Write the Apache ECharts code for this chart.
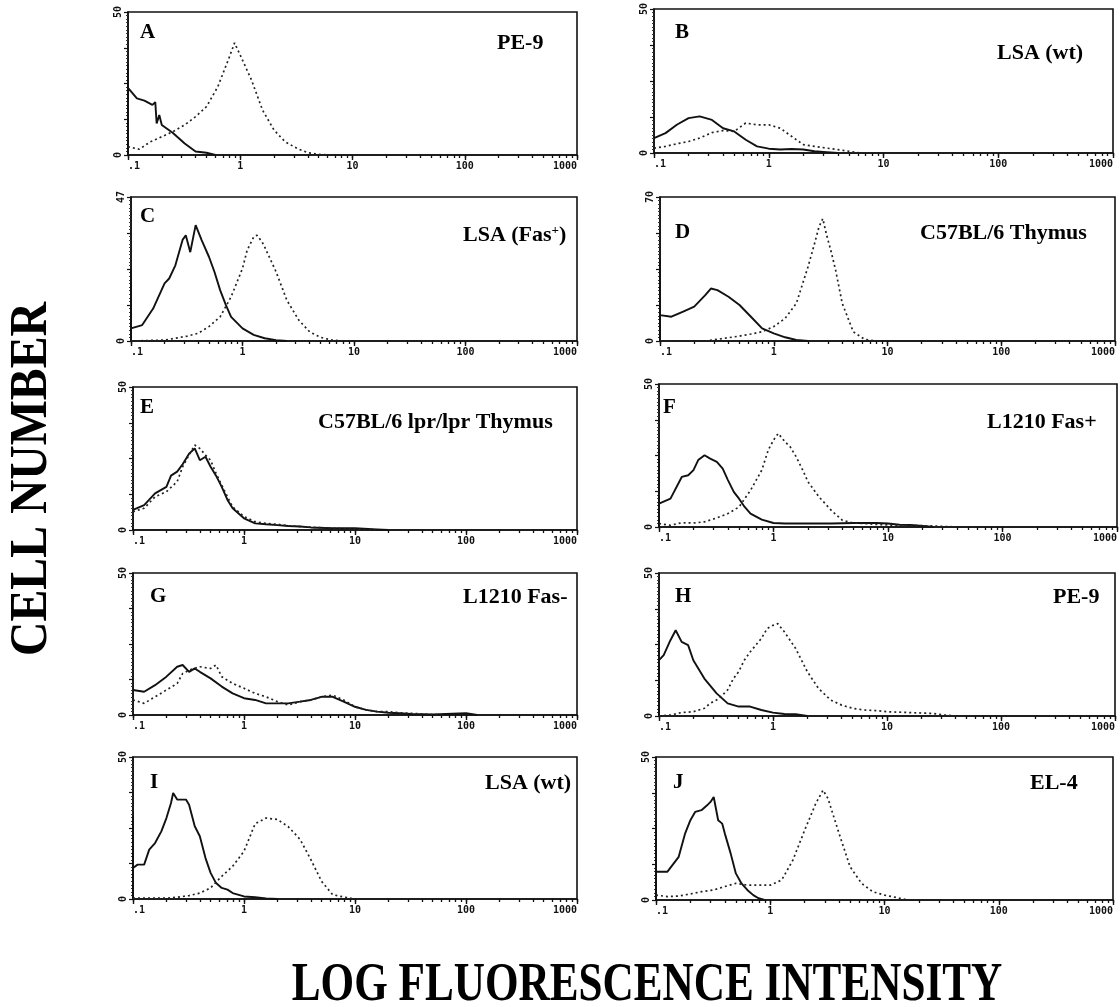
<!DOCTYPE html>
<html><head><meta charset="utf-8">
<script src="https://cdn.jsdelivr.net/npm/echarts@6/dist/echarts.min.js"></script>
<style>html,body{margin:0;padding:0;background:#fff}#c{width:1120px;height:1007px}</style>
</head><body><div id="c"></div><script>
// ---------- DATA ----------
const panelLetters = ['A','B','C','D','E','F','G','H','I','J'];
const panelNames = ['PE-9','LSA (wt)','LSA (Fas{sup|+})','C57BL/6 Thymus','C57BL/6 lpr/lpr Thymus','L1210 Fas+','L1210 Fas-','PE-9','LSA (wt)','EL-4'];
const yMax = [50,50,47,70,50,50,50,50,50,50];
const xLabelValues = [0.1,1,10,100,1000];
const xTickValues = [0.1,0.2,0.3,0.4,0.5,0.6,0.7,0.8,0.9,1,2,3,4,5,6,7,8,9,10,20,30,40,50,60,70,80,90,100,200,300,400,500,600,700,800,900,1000];

// [fluorescence, cell number] — solid (control) and dotted (Fas stain)
const A_ctrl = [[0.1,0],[0.1,32],[0.1,23.5],[0.12,19.8],[0.14,19],[0.165,17.5],[0.175,18.5],[0.18,11],[0.19,14],[0.2,10.5],[0.25,7.8],[0.32,4],[0.4,1.2],[0.5,0.8],[0.6,0]];
const A_fas = [[0.1,2.9],[0.126,2],[0.158,4.6],[0.2,6.4],[0.25,8.1],[0.32,10.5],[0.4,13.4],[0.5,16.9],[0.63,23.8],[0.79,33.7],[0.89,39.2],[1.0,34.9],[1.26,26.2],[1.58,15.7],[2.0,8.7],[2.5,4.7],[3.2,2.3],[4.0,0.8],[5.0,0.2],[6.3,0]];
const B_ctrl = [[0.1,5.2],[0.126,6.9],[0.158,9.8],[0.2,12.1],[0.25,12.7],[0.32,11.5],[0.4,8.6],[0.5,7.5],[0.63,4.6],[0.79,2.3],[1,1.5],[1.26,1.2],[1.58,1.4],[2,1.2],[2.5,0.6],[3.2,0.3],[4,0]];
const B_fas = [[0.1,1.7],[0.126,2.3],[0.158,3.2],[0.2,4.0],[0.25,5.2],[0.32,7.1],[0.4,7.8],[0.5,7.5],[0.63,10.4],[0.79,9.8],[1,9.8],[1.26,8.6],[1.58,5.8],[2,2.9],[2.5,2.3],[3.2,1.7],[4,1.2],[5,0.6],[6.3,0]];
const C_ctrl = [[0.1,0],[0.1,23],[0.1,4.1],[0.126,5.2],[0.158,10.6],[0.2,18.8],[0.22,20.4],[0.25,24.7],[0.29,33],[0.31,34.5],[0.34,29],[0.38,37.8],[0.43,32.9],[0.5,27.5],[0.56,22.6],[0.63,16.6],[0.71,11.7],[0.79,7.9],[1,4.1],[1.26,2.0],[1.58,0.9],[2,0.3],[2.5,0]];
const C_fas = [[0.1,0],[0.2,0.3],[0.25,0.9],[0.32,1.6],[0.4,2.5],[0.5,4.7],[0.63,7.9],[0.79,14.4],[1,23.7],[1.1,29.6],[1.26,34],[1.35,34.5],[1.5,32.3],[1.58,30.7],[2,22.6],[2.5,13.3],[3.2,6.8],[4,3],[5,1.2],[6.3,0.3],[7.9,0]];
const D_ctrl = [[0.1,0],[0.1,40],[0.1,12.6],[0.126,11.8],[0.158,14.2],[0.2,16.7],[0.25,22.3],[0.28,25.5],[0.32,24.7],[0.4,21.5],[0.5,17.5],[0.63,11.8],[0.79,6.1],[1,3.7],[1.26,1.8],[1.58,0.5],[2,0]];
const D_fas = [[0.1,0],[0.25,0],[0.32,0.8],[0.4,1.6],[0.5,2.4],[0.63,3.4],[0.79,4.5],[1,7],[1.26,11],[1.58,18.3],[2,36],[2.3,48],[2.5,55.5],[2.7,59.5],[2.9,52],[3.2,43.3],[3.5,34.4],[4,18.3],[5,4.5],[6.3,0.8],[7.9,0]];
const E_ctrl = [[0.1,7],[0.126,8.7],[0.158,12.8],[0.2,15.1],[0.22,19],[0.25,20.4],[0.28,23],[0.32,26.7],[0.36,28.5],[0.4,24.4],[0.45,25.6],[0.5,22.1],[0.56,19],[0.63,15.1],[0.71,10.5],[0.79,7.6],[1,4.1],[1.26,2.3],[1.58,2],[2,1.7],[2.5,1.4],[3.2,1.2],[4,0.9],[6.3,0.6],[10,0.6],[15.8,0.2],[20,0]];
const E_fas = [[0.1,6.4],[0.126,7.6],[0.158,11.6],[0.2,13.4],[0.25,16.9],[0.28,22.1],[0.32,26.2],[0.36,29.7],[0.4,28.5],[0.45,26.2],[0.5,24.4],[0.56,19.8],[0.63,15.7],[0.71,11.6],[0.79,8.1],[1,4.7],[1.26,2.9],[1.58,2.3],[2,2],[2.5,1.5],[3.2,1.2],[5,0.8],[10,0.3],[15.8,0]];
const F_ctrl = [[0.1,0],[0.1,27.4],[0.1,8.2],[0.126,9.9],[0.158,17.5],[0.18,18.1],[0.2,19.9],[0.22,23.4],[0.25,25.1],[0.28,23.9],[0.32,22.8],[0.36,20.4],[0.4,16.4],[0.45,12.3],[0.5,9.9],[0.56,7],[0.63,4.7],[0.79,2.6],[1,1.4],[1.26,1.2],[2,1.2],[3.2,1.2],[5,1.4],[7.9,1.4],[10,1.2],[12.6,0.8],[15.8,0.7],[20,0.35],[25,0]];
const F_fas = [[0.1,1.2],[0.126,0.6],[0.158,1.5],[0.2,1.4],[0.25,1.8],[0.32,3.2],[0.4,4.7],[0.5,7],[0.56,9.9],[0.63,12.8],[0.79,19.9],[0.9,26.9],[1,30.4],[1.1,32.7],[1.26,29.8],[1.4,28],[1.58,24.5],[1.8,19.9],[2,15.8],[2.5,10.5],[3.2,5.8],[4,2.3],[5,1.4],[6.3,1.2],[7.9,0.9],[10,0.7],[15.8,0.6],[25,0.35],[40,0]];
const G_ctrl = [[0.1,8.8],[0.126,8.2],[0.158,10.5],[0.2,13.5],[0.25,17],[0.28,17.6],[0.32,15.2],[0.36,16.4],[0.4,15.2],[0.5,12.9],[0.63,10],[0.79,7.6],[1,5.9],[1.26,5.3],[1.58,4.1],[2,4.1],[2.5,4.1],[3.2,4.7],[4,5.3],[5,6.4],[6.3,6.4],[7.9,4.7],[10,2.9],[12.6,1.8],[15.8,1.2],[20,0.8],[25,0.6],[32,0.35],[50,0.2],[100,0.6],[126,0]];
const G_fas = [[0.1,5.3],[0.126,4.1],[0.158,6.4],[0.2,8.8],[0.25,11.1],[0.28,14.6],[0.32,15.8],[0.4,17],[0.5,16.4],[0.56,17.6],[0.63,13.5],[0.79,11.1],[1,9.4],[1.26,7.6],[1.58,6.4],[2,4.7],[2.5,3.5],[3.2,4.7],[4,5.3],[5,6.4],[6.3,7],[7.9,5.3],[10,2.9],[12.6,1.8],[15.8,1.2],[20,1.2],[25,0.8],[32,0.6],[40,0.35],[63,0]];
const H_ctrl = [[0.1,0],[0.1,34.7],[0.1,19.5],[0.11,21.3],[0.126,26.5],[0.14,30],[0.158,25.9],[0.18,24.8],[0.2,19.5],[0.25,13.1],[0.32,7.9],[0.4,4.4],[0.5,3.3],[0.63,3.3],[0.79,2.1],[1,1.2],[1.26,0.7],[1.58,0.6],[2,0]];
const H_fas = [[0.1,0],[0.126,0.35],[0.158,1.2],[0.2,1.5],[0.25,2.7],[0.28,4.4],[0.32,5.6],[0.36,7.3],[0.4,9.1],[0.45,13.1],[0.5,15.5],[0.56,19.5],[0.63,22.4],[0.79,27.1],[0.89,30.6],[1,31.7],[1.1,32.3],[1.26,29.4],[1.58,23.6],[2,15.5],[2.5,9.7],[3.2,5.6],[4,3.8],[5,2.7],[6.3,2.1],[7.9,1.9],[10,1.5],[15.8,1.2],[25,0.9],[32,0.35],[40,0]];
const I_ctrl = [[0.1,0],[0.1,29],[0.1,10.9],[0.11,12.1],[0.126,12.1],[0.14,17.4],[0.158,19.7],[0.18,23.8],[0.2,28.5],[0.22,33.8],[0.23,37.3],[0.25,35],[0.28,35],[0.3,35],[0.32,33.2],[0.36,25.6],[0.4,22.1],[0.45,14.4],[0.5,9.2],[0.56,5.6],[0.63,3.9],[0.71,3.3],[0.79,2.1],[1,0.9],[1.26,0.6],[1.58,0.2],[2,0]];
const I_fas = [[0.1,0.3],[0.2,0.3],[0.25,0.6],[0.32,1.2],[0.4,2.1],[0.5,3.9],[0.63,8],[0.79,11.5],[1,16.8],[1.26,26.5],[1.58,28.5],[2,28],[2.5,25.5],[3.2,21],[4,13.9],[5,6.2],[6.3,1.5],[7.9,0.7],[10,0]];
const J_ctrl = [[0.1,0],[0.1,27.9],[0.1,9.9],[0.126,9.9],[0.158,15.1],[0.18,23.3],[0.2,27.9],[0.22,30.8],[0.25,31.4],[0.28,33.1],[0.3,34.3],[0.32,36],[0.35,27.9],[0.38,26.7],[0.4,23.3],[0.45,16.3],[0.5,9.3],[0.56,5.8],[0.63,3.5],[0.71,1.7],[0.79,0.6],[0.89,0]];
const J_fas = [[0.1,1.7],[0.126,1.2],[0.158,1.4],[0.2,2.1],[0.25,2.9],[0.32,3.5],[0.4,4.7],[0.5,5.8],[0.63,5.2],[0.79,5.2],[1,5.2],[1.26,7],[1.58,14],[2,24.4],[2.5,33.7],[2.9,38.4],[3.2,35.5],[4,23.3],[5,11.6],[6.3,5.8],[7.9,2.9],[10,1.7],[12.6,0.9],[15.8,0]];

const ctrlSeries = [A_ctrl,B_ctrl,C_ctrl,D_ctrl,E_ctrl,F_ctrl,G_ctrl,H_ctrl,I_ctrl,J_ctrl];
const fasSeries = [A_fas,B_fas,C_fas,D_fas,E_fas,F_fas,G_fas,H_fas,I_fas,J_fas];

// ---------- LAYOUT ----------
const boxes = [[128,12,577,155],[654,8,1113,153],[131,197,577,341],[660,197,1115,341],[133,387,577,530],[659,384,1117,527],[133,573,577,715],[659,573,1115,716],[133,757,577,899],[656,757,1113,900]];
const letterPos = [[140,33],[675,33],[140,217],[675,233],[140,408],[663,408],[150,597],[675,597],[150,783],[673,783]];
const namePos = [[497,43],[997,53],[463,235],[920,233],[318,422],[987,422],[463,597],[1053,597],[485,783],[1030,783]];

const SERIF = '"Liberation Serif","Times New Roman",serif';
const MONO = '"DejaVu Sans Mono",monospace';
const tickLogs = xTickValues.map(v => Math.log10(v));
const grids=[], xAxes=[], yAxes=[], series=[], graphics=[];
boxes.forEach((b,i)=>{
  grids.push({left:b[0], top:b[1], width:b[2]-b[0], height:b[3]-b[1], show:true, borderColor:'#111', borderWidth:1.6, backgroundColor:'transparent'});
  // main log axis (labels)
  xAxes.push({type:'log', logBase:10, gridIndex:i, min:0.1, max:1000, position:'bottom',
    axisLine:{onZero:false, lineStyle:{color:'#111', width:1.6}},
    axisTick:{show:true, inside:false, length:5, lineStyle:{color:'#111', width:1.4}},
    axisLabel:{customValues:xLabelValues, formatter:v=> v<1 ? '.1' : String(Math.round(v)), fontFamily:MONO, fontWeight:'bold', fontSize:10, color:'#111', margin:6, alignMinLabel:'left', alignMaxLabel:'right'},
    splitLine:{show:false}, minorTick:{show:false}});
  // helper axis in log10 units for the 2..9 minor ticks
  xAxes.push({type:'value', gridIndex:i, min:-1, max:3, position:'bottom',
    axisLine:{show:false, onZero:false}, axisLabel:{show:false}, splitLine:{show:false},
    axisTick:{show:true, inside:false, length:3, customValues:tickLogs, lineStyle:{color:'#111', width:1.3}}});
  yAxes.push({type:'value', gridIndex:i, min:0, max:yMax[i], interval:yMax[i]/4, position:'left',
    axisLine:{show:true, onZero:false, lineStyle:{color:'#111', width:1.6}},
    axisTick:{show:true, length:4, lineStyle:{color:'#111', width:1.2}},
    minorTick:{show:true, splitNumber:10, length:2, lineStyle:{color:'#333', width:1}},
    axisLabel:{customValues:[0,yMax[i]], rotate:90, fontFamily:MONO, fontWeight:'bold', fontSize:10, color:'#111', margin:5},
    splitLine:{show:false}});
  series.push({type:'line', xAxisIndex:2*i, yAxisIndex:i, data:ctrlSeries[i], showSymbol:false, symbol:'none', silent:true,
    lineStyle:{color:'#111', width:1.9}});
  series.push({type:'line', xAxisIndex:2*i, yAxisIndex:i, data:fasSeries[i], showSymbol:false, symbol:'none', silent:true,
    lineStyle:{color:'#222', width:1.7, type:[2,3]}});
  graphics.push({type:'text', x:letterPos[i][0], y:letterPos[i][1], style:{text:panelLetters[i], font:'bold 21px '+SERIF, fill:'#000', align:'left', verticalAlign:'middle'}});
  graphics.push({type:'text', x:namePos[i][0], y:namePos[i][1], style:{text:panelNames[i], font:'bold 22px '+SERIF, fill:'#000', align:'left', verticalAlign:'middle',
    rich:{sup:{font:'bold 13px '+SERIF, fill:'#000', verticalAlign:'top', lineHeight:22}}}});
});
graphics.push({type:'text', x:647, y:986, scaleX:0.8, style:{text:'LOG FLUORESCENCE INTENSITY', font:'bold 54px '+SERIF, fill:'#000', align:'center', verticalAlign:'middle'}});
graphics.push({type:'text', x:32, y:479, rotation:Math.PI/2, scaleX:0.9, style:{text:'CELL NUMBER', font:'bold 53px '+SERIF, fill:'#000', align:'center', verticalAlign:'middle'}});

const chart = echarts.init(document.getElementById('c'));
chart.setOption({animation:false, backgroundColor:'#fff', grid:grids, xAxis:xAxes, yAxis:yAxes, series:series, graphic:graphics});
</script></body></html>
